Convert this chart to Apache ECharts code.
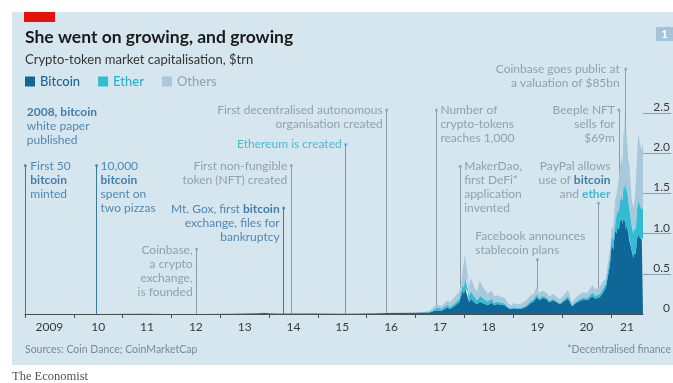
<!DOCTYPE html>
<html><head><meta charset="utf-8">
<script src="https://cdn.jsdelivr.net/npm/echarts@6/dist/echarts.min.js"></script>
<style>html,body{margin:0;padding:0;background:#fff}#c{width:673px;height:383px}</style>
</head><body><div id="c"></div>
<script>
// ---- data ($trn) ----
const dates = ['2009-01-03','2010-07-15','2011-06-08','2011-12-01','2012-08-15','2013-04-10','2013-12-01','2014-03-01','2014-12-01','2015-08-01','2016-06-15','2016-12-31',
'2017-03-01','2017-04-15','2017-05-25','2017-06-12','2017-07-15','2017-08-30','2017-09-15','2017-10-20','2017-11-25','2017-12-08','2017-12-20','2017-12-29',
'2018-01-07','2018-01-16','2018-01-26','2018-02-06','2018-02-20','2018-03-15','2018-04-06','2018-04-25','2018-05-08','2018-05-25','2018-06-25','2018-07-25','2018-08-12','2018-09-05','2018-09-30','2018-10-30','2018-11-22','2018-12-15',
'2019-01-06','2019-02-06','2019-03-10','2019-04-10','2019-05-15','2019-06-01','2019-06-26','2019-07-17','2019-08-10','2019-09-05','2019-09-28','2019-10-26','2019-12-17',
'2020-01-15','2020-02-13','2020-02-28','2020-03-16','2020-04-10','2020-05-10','2020-06-10','2020-07-10','2020-08-15','2020-09-08','2020-10-10','2020-10-28',
'2020-11-12','2020-11-25','2020-12-14','2020-12-26','2021-01-08','2021-01-20','2021-02-02','2021-02-12','2021-02-22','2021-03-03','2021-03-11','2021-03-24','2021-03-30','2021-04-06','2021-04-11','2021-04-17','2021-04-23','2021-04-30','2021-05-12','2021-05-19','2021-05-26','2021-06-07','2021-06-19','2021-07-01','2021-07-07','2021-07-13','2021-07-25','2021-08-08','2021-08-21','2021-08-30'];
const bitcoin = [0,0.0003,0.002,0.0008,0.001,0.002,0.013,0.007,0.005,0.004,0.011,0.015,
0.02,0.02,0.04,0.045,0.04,0.08,0.06,0.1,0.15,0.22,0.30,0.25,
0.33,0.26,0.28,0.15,0.19,0.15,0.12,0.16,0.16,0.13,0.11,0.14,0.11,0.125,0.115,0.11,0.075,0.058,
0.07,0.061,0.068,0.09,0.14,0.15,0.21,0.17,0.2,0.19,0.145,0.17,0.12,
0.16,0.19,0.16,0.095,0.13,0.16,0.18,0.17,0.22,0.19,0.21,0.25,
0.29,0.33,0.50,0.62,0.88,0.80,1.05,1.0,1.10,1.05,1.15,1.18,1.12,1.20,1.15,1.20,1.05,1.12,1.00,0.92,0.90,0.78,0.70,0.78,0.74,0.90,1.00,0.95,0.92,0.93];
const ether = [0,0,0,0,0,0,0,0,0,0.0002,0.0015,0.0007,
0.002,0.005,0.02,0.035,0.025,0.035,0.025,0.03,0.04,0.06,0.07,0.08,
0.15,0.12,0.12,0.08,0.09,0.07,0.05,0.08,0.07,0.06,0.045,0.05,0.03,0.03,0.025,0.02,0.013,0.01,
0.016,0.011,0.015,0.02,0.026,0.028,0.033,0.023,0.023,0.019,0.018,0.02,0.014,
0.018,0.03,0.025,0.012,0.018,0.022,0.027,0.027,0.048,0.038,0.04,0.045,
0.05,0.05,0.07,0.08,0.10,0.12,0.15,0.2,0.20,0.22,0.25,0.30,0.28,0.40,0.42,0.48,0.45,0.48,0.42,0.40,0.35,0.32,0.30,0.32,0.30,0.35,0.42,0.40,0.38,0.40];
const others = [0,0,0,0,0,0.0003,0.002,0.001,0.001,0.001,0.002,0.002,
0.003,0.012,0.04,0.035,0.035,0.055,0.055,0.08,0.09,0.10,0.18,0.23,
0.27,0.22,0.18,0.12,0.17,0.12,0.10,0.18,0.15,0.13,0.10,0.10,0.08,0.08,0.075,0.07,0.05,0.042,
0.05,0.045,0.05,0.06,0.07,0.07,0.09,0.07,0.07,0.06,0.055,0.058,0.05,
0.06,0.075,0.06,0.04,0.05,0.06,0.065,0.065,0.09,0.08,0.09,0.095,
0.08,0.07,0.10,0.10,0.11,0.14,0.22,0.28,0.28,0.33,0.43,0.48,0.45,0.69,0.63,0.77,0.70,0.65,0.50,0.55,0.46,0.32,0.33,0.36,0.40,0.58,0.83,0.77,0.74,0.82];
const seriesNames = ['Bitcoin','Ether','Others'];
const yearLabels = ['2009','10','11','12','13','14','15','16','17','18','19','20','21'];
const yLabelValues = [0,0.5,1,1.5,2,2.5];
const yGridValues = [0.5,1,1.5,2,2.5];

// ---- annotations ----
const annoDates = ['2009-01-03','2009-01-03','2010-06-20','2012-07-08','2014-04-20','2014-06-16','2015-07-28','2016-05-30','2017-06-06','2017-12-01','2019-07-01','2020-10-01','2021-03-03','2021-04-23'];
const annoTops  = [2.53,1.85,1.85,0.81,1.32,1.85,2.11,2.54,2.54,1.84,0.68,1.38,2.54,3.05];
const annoHasLine = [false,true,true,true,true,true,true,true,true,true,true,true,true,true];
const annoKinds = ['blue','blue','blue','grey','blue','grey','teal','grey','grey','grey','grey','grey','grey','grey'];
const annoTexts = [
 '{b|2008, bitcoin}\nwhite paper\npublished',
 'First 50\n{b|bitcoin}\nminted',
 '10,000\n{b|bitcoin}\nspent on\ntwo pizzas',
 'Coinbase,\na crypto\nexchange,\nis founded',
 'Mt. Gox, first {b|bitcoin}\nexchange, files for\nbankruptcy',
 'First non-fungible\ntoken (NFT) created',
 'Ethereum is created',
 'First decentralised autonomous\norganisation created',
 'Number of\ncrypto-tokens\nreaches 1,000',
 'MakerDao,\nfirst DeFi*\napplication\ninvented',
 'Facebook announces\nstablecoin plans',
 'PayPal allows\nuse of {b|bitcoin}\nand {e|ether}',
 'Beeple NFT\nsells for\n$69m',
 'Coinbase goes public at\na valuation of $85bn'
];
// label layout (offset of text anchor from the dot, alignment)
const annoLayout = [[0,-7,'left'],[5,-6,'left'],[4,-6,'left'],[-4,-6,'right'],[-4,-6,'right'],[-4,-6,'right'],[-4,-7,'right'],[-4,-7,'right'],[4,-7,'left'],[4,-7,'left'],[-62,-30,'left'],[12,-44,'right'],[-4,-7,'right'],[-6,-7,'right']];

// ---- styles ----
const FONT = 'Lato, "Noto Sans", sans-serif';
const colBTC = '#0e6797', colETH = '#31bcd4', colOTH = '#a8c8db';
const kindText = {blue:'#2e70a0', grey:'#7e909b', teal:'#27aecb'};
const kindLine = {blue:'#3a79a6', grey:'#8d9da7', teal:'#33b6cf'};

function toYear(s){
  const d = Date.parse(s+'T00:00:00Z');
  const y = +s.slice(0,4);
  const a = Date.UTC(y,0,1), b = Date.UTC(y+1,0,1);
  return y + (d-a)/(b-a);
}
const xs = dates.map(toYear);
const xMin = 2009, xMax = xs[xs.length-1];
const tickVals = yearLabels.map((_,i)=>2009+i);
const labelVals = yearLabels.map((_,i)=> i < yearLabels.length-1 ? 2009+i+0.5 : (2009+i+xMax)/2);

const chart = echarts.init(document.getElementById('c'), null, {renderer:'canvas'});

// value first, year second, so that the library stacks the value dimension
const stackSeries = [bitcoin, ether, others].map((arr, k) => ({
  name: seriesNames[k], type:'line', stack:'total', z:3,
  data: arr.map((v,i)=>[v, xs[i]]),
  encode:{x:1, y:0},
  showSymbol:false, symbol:'none', smooth:false,
  color: [colBTC,colETH,colOTH][k],
  lineStyle:{width:0},
  areaStyle:{color:[colBTC,colETH,colOTH][k], opacity:1},
  emphasis:{disabled:true}, silent:true
}));

const rich = {
  b:{fontFamily:FONT, fontSize:12, lineHeight:14, fontWeight:'bold', color:'#1d6399'},
  e:{fontFamily:FONT, fontSize:12, lineHeight:14, fontWeight:'bold', color:'#22aac9'}
};

const annoSeries = {
  type:'scatter', z:5, silent:true,
  symbol:'circle',
  data: annoDates.map((d,i)=>({
    value:[toYear(d), annoTops[i]],
    symbolSize: annoHasLine[i] ? 3 : 0,
    itemStyle:{color: kindLine[annoKinds[i]]},
    label:{
      show:true, formatter: annoTexts[i],
      position:[annoLayout[i][0]+1.5, annoLayout[i][1]+1.5],
      align: annoLayout[i][2], verticalAlign:'top',
      fontFamily:FONT, fontSize:12, lineHeight:14,
      color: kindText[annoKinds[i]], rich
    }
  })),
  markLine:{
    silent:true, z:1, symbol:['none','none'], animation:false,
    label:{show:false},
    data: annoDates.map((d,i)=>({d,i})).filter(o=>annoHasLine[o.i]).map(o=>{
      const ls = {color:kindLine[annoKinds[o.i]], width:1, type:'solid'};
      return [{coord:[toYear(o.d),0], lineStyle:ls},{coord:[toYear(o.d),annoTops[o.i]], lineStyle:ls}];
    })
  }
};

chart.setOption({
  animation:false,
  backgroundColor:'#ffffff',
  textStyle:{fontFamily:FONT},
  grid:{left:25, right:30, top:57, bottom:69, containLabel:false},
  legend:{
    left:25, top:75, padding:0, itemWidth:10, itemHeight:10, itemGap:18, icon:'rect',
    selectedMode:false,
    textStyle:{fontFamily:FONT, fontSize:13, fontWeight:500},
    data:[
      {name:'Bitcoin', textStyle:{color:'#1d6399'}},
      {name:'Ether', textStyle:{color:'#27b3cd'}},
      {name:'Others', textStyle:{color:'#8ea7b8'}}
    ]
  },
  xAxis:{
    type:'value', min:xMin, max:xMax, z:6,
    axisLine:{show:true, onZero:false, lineStyle:{color:'#4d4d4d', width:1}},
    axisTick:{show:true, customValues:tickVals, length:4, inside:false, lineStyle:{color:'#4d4d4d'}},
    axisLabel:{customValues:labelVals, margin:7, color:'#3a3a3a', fontSize:12, fontFamily:FONT,
      formatter:v=>yearLabels[Math.floor(v)-2009]},
    splitLine:{show:false}
  },
  yAxis:{
    type:'value', min:0, max:3.2, position:'right',
    axisLine:{show:false},
    axisTick:{show:true, customValues:yGridValues, length:28, inside:false, lineStyle:{color:'#8fa0ab', width:1}},
    axisLabel:{customValues:yLabelValues, margin:27, align:'right', verticalAlign:'bottom', color:'#3a3a3a', fontSize:12, fontFamily:FONT,
      formatter:v=> v===0 ? '0' : v.toFixed(1)},
    splitLine:{show:false}
  },
  graphic:[
    {type:'rect', z:-100, silent:true, shape:{x:12,y:12,width:661,height:353}, style:{fill:'#d6e6ef'}},
    {type:'rect', z:10, silent:true, shape:{x:24,y:12,width:31,height:10}, style:{fill:'#e3120b'}},
    {type:'text', z:10, silent:true, x:25, y:37, style:{text:'She went on growing, and growing', font:'bold 17.5px '+FONT, fill:'#1a1a1a', verticalAlign:'middle'}},
    {type:'text', z:10, silent:true, x:25, y:60, style:{text:'Crypto-token market capitalisation, $trn', font:'13px '+FONT, fill:'#333333', verticalAlign:'middle'}},
    {type:'rect', z:10, silent:true, shape:{x:656,y:27,width:17,height:14}, style:{fill:'#a6c4d8'}},
    {type:'text', z:11, silent:true, x:664.5, y:34, style:{text:'1', font:'bold 12px '+FONT, fill:'#ffffff', align:'center', verticalAlign:'middle'}},
    {type:'text', z:10, silent:true, x:25, y:350, style:{text:'Sources: Coin Dance; CoinMarketCap', font:'10.5px '+FONT, fill:'#7a8a95', verticalAlign:'middle'}},
    {type:'text', z:10, silent:true, x:671, y:350, style:{text:'*Decentralised finance', font:'10.5px '+FONT, fill:'#7a8a95', align:'right', verticalAlign:'middle'}},
    {type:'text', z:10, silent:true, x:12, y:377, style:{text:'The Economist', font:'12.5px "Liberation Serif", "DejaVu Serif", serif', fill:'#555555', verticalAlign:'middle'}}
  ],
  series:[annoSeries, ...stackSeries]
});
</script>
</body></html>
